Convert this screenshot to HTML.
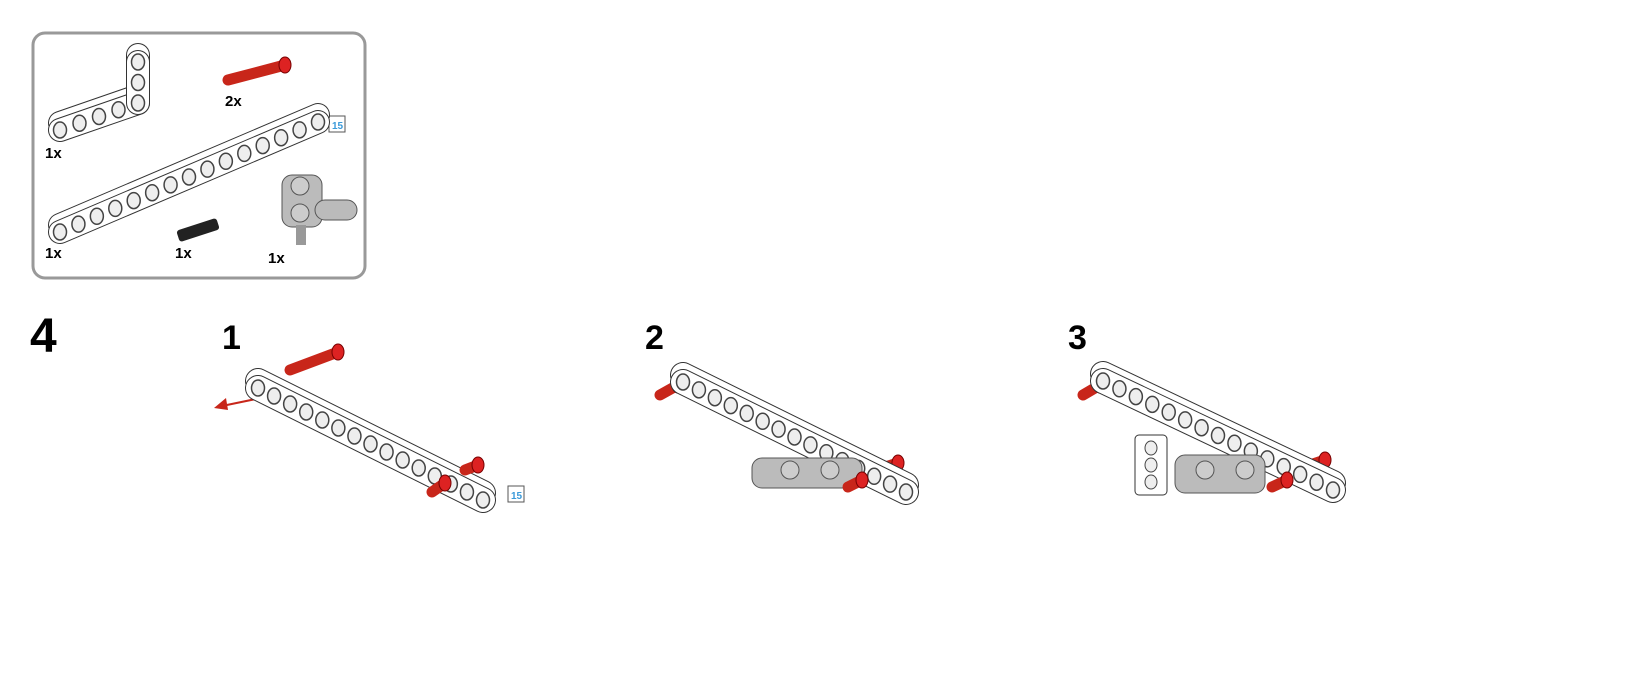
<!DOCTYPE html><html><head><style>
html,body{margin:0;padding:0;background:#fff;width:1633px;height:675px;overflow:hidden}
svg{display:block}
text{font-family:"Liberation Sans",sans-serif;font-weight:bold;fill:#000}
</style></head><body>
<svg id="s" width="1633" height="675" viewBox="0 0 1633 675">
<rect x="33" y="33" width="332" height="245" rx="12" fill="#fff" stroke="#999" stroke-width="3"/>
<text x="45" y="158" font-size="15">1x</text>
<text x="225" y="106" font-size="15">2x</text>
<text x="45" y="258" font-size="15">1x</text>
<text x="175" y="258" font-size="15">1x</text>
<text x="268" y="263" font-size="15">1x</text>
<rect x="329" y="116" width="16" height="16" fill="#fff" stroke="#555"/>
<text x="332" y="129" font-size="10" style="fill:#3a9ad9">15</text>
<rect x="508" y="486" width="16" height="16" fill="#fff" stroke="#555"/>
<text x="511" y="499" font-size="10" style="fill:#3a9ad9">15</text>
<text x="30" y="352" font-size="48">4</text>
<text x="222" y="349" font-size="34">1</text>
<text x="645" y="349" font-size="34">2</text>
<text x="1068" y="349" font-size="34">3</text>
<g id="g"></g>
</svg>
<script>
var g=document.getElementById('g'),h='';
function beam(x1,y1,x2,y2,n,w){w=w||24;
h+='<line x1="'+x1+'" y1="'+(y1-7)+'" x2="'+x2+'" y2="'+(y2-7)+'" stroke="#333" stroke-width="'+(w+2)+'" stroke-linecap="round"/>';
h+='<line x1="'+x1+'" y1="'+(y1-7)+'" x2="'+x2+'" y2="'+(y2-7)+'" stroke="#fff" stroke-width="'+w+'" stroke-linecap="round"/>';
h+='<line x1="'+x1+'" y1="'+y1+'" x2="'+x2+'" y2="'+y2+'" stroke="#333" stroke-width="'+(w+2)+'" stroke-linecap="round"/>';
h+='<line x1="'+x1+'" y1="'+y1+'" x2="'+x2+'" y2="'+y2+'" stroke="#fff" stroke-width="'+w+'" stroke-linecap="round"/>';
for(var i=0;i<n;i++){var x=x1+(x2-x1)*i/(n-1),y=y1+(y2-y1)*i/(n-1);
h+='<ellipse cx="'+x+'" cy="'+y+'" rx="6.5" ry="8" fill="#eee" stroke="#444" stroke-width="1.5"/>';}}
function pin(x1,y1,x2,y2){h+='<line x1="'+x1+'" y1="'+y1+'" x2="'+x2+'" y2="'+y2+'" stroke="#c8261a" stroke-width="11" stroke-linecap="round"/>';
h+='<ellipse cx="'+x2+'" cy="'+y2+'" rx="6" ry="8" fill="#d22" stroke="#700"/>';}
function gray(x,y,w,hh){h+='<rect x="'+x+'" y="'+y+'" width="'+w+'" height="'+hh+'" rx="10" fill="#bbb" stroke="#555"/>';}
beam(60,232,318,122,15,22);
beam(60,130,138,103,5,22);beam(138,103,138,62,3,22);
pin(228,80,285,65);
h+='<rect x="177" y="224" width="42" height="12" rx="3" fill="#222" transform="rotate(-18 198 230)"/>';
gray(282,175,40,52);gray(315,200,42,20);h+='<circle cx="300" cy="186" r="9" fill="#ccc" stroke="#555"/><circle cx="300" cy="213" r="9" fill="#ccc" stroke="#555"/><rect x="296" y="225" width="10" height="20" fill="#999"/>';
pin(290,370,338,352);
h+='<line x1="290" y1="392" x2="222" y2="406" stroke="#c8261a" stroke-width="2"/><polygon points="214,408 226,398 228,410" fill="#c8261a"/>';
beam(258,388,483,500,15);
pin(465,470,478,465);pin(432,492,445,483);
pin(660,395,678,385);pin(882,468,898,463);
beam(683,382,906,492,15);
gray(752,458,110,30);h+='<circle cx="790" cy="470" r="9" fill="#ccc" stroke="#555"/><circle cx="830" cy="470" r="9" fill="#ccc" stroke="#555"/>';
pin(848,487,862,480);
pin(1083,395,1100,385);pin(1310,465,1325,460);
h+='<rect x="1135" y="435" width="32" height="60" fill="#fff" stroke="#333" rx="4"/>';
for(var k=0;k<3;k++)h+='<ellipse cx="1151" cy="'+(448+k*17)+'" rx="6" ry="7" fill="#eee" stroke="#444"/>';
beam(1103,381,1333,490,15);
gray(1175,455,90,38);h+='<circle cx="1205" cy="470" r="9" fill="#ccc" stroke="#555"/><circle cx="1245" cy="470" r="9" fill="#ccc" stroke="#555"/>';
pin(1272,487,1287,480);
g.innerHTML=h;
</script>
</body></html>
